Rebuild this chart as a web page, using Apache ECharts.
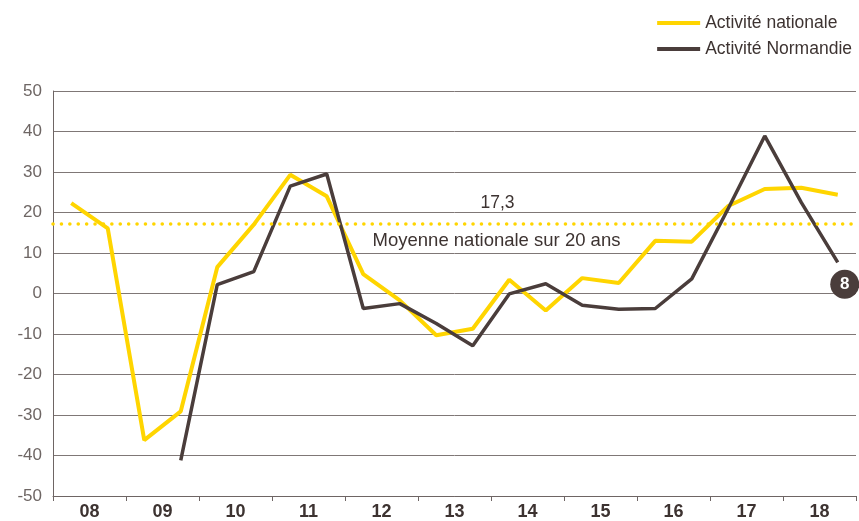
<!DOCTYPE html>
<html>
<head>
<meta charset="utf-8">
<script src="https://cdn.jsdelivr.net/npm/echarts@6/dist/echarts.min.js"></script>
<style>
  html, body { margin: 0; padding: 0; background: #fff; }
  #chart { width: 859px; height: 521px; }
</style>
</head>
<body>
<div id="chart"></div>
<script>
// années affichées sur l'axe
const years = ['08', '09', '10', '11', '12', '13', '14', '15', '16', '17', '18']
// un point par semestre
const halfYears = []
years.forEach(y => { halfYears.push(y + '-S1', y + '-S2') })

const national = [22.3, 16.1, -36.2, -29.1, 6.5, 17, 29.3, 24.0, 4.8, -1.7, -10.3,
  -8.7, 3.4, -4.2, 3.8, 2.6, 13.0, 12.8, 21.6, 25.8, 26.1, 24.4]
const normandie = [null, null, null, -41.2, 2.2, 5.4, 26.5, 29.5, -3.7, -2.5, -7.4,
  -12.9, -0.1, 2.4, -2.9, -3.9, -3.7, 3.6, 21.0, 38.9, 22.5, 7.7]
const averageValue = 17.3

const yellow = '#ffd500'
const dark = '#4a3d3b'
const gridColor = '#7f7776'
const font = 'Liberation Sans, Arial, sans-serif'

const chart = echarts.init(document.getElementById('chart'))

const option = {
  animation: false,
  grid: { left: 53, right: 3, top: 91, bottom: 22, containLabel: false },
  legend: {
    orient: 'vertical',
    right: 2,
    top: 8,
    itemWidth: 43,
    itemHeight: 4,
    itemGap: 6,
    icon: 'rect',
    textStyle: { fontFamily: font, fontSize: 17.5, color: '#3d3331', lineHeight: 20 },
    data: ['Activité nationale', 'Activité Normandie']
  },
  xAxis: [
    {
      type: 'category',
      data: years,
      boundaryGap: true,
      axisLine: { show: true, onZero: false, lineStyle: { color: '#6e6564', width: 1 } },
      axisTick: { show: true, length: 5, lineStyle: { color: '#6e6564' } },
      axisLabel: { fontFamily: font, fontSize: 18, fontWeight: 'bold', color: '#3d3331', margin: 7 },
      splitLine: { show: false }
    },
    {
      type: 'category',
      data: halfYears,
      boundaryGap: true,
      show: false
    }
  ],
  yAxis: {
    type: 'value',
    min: -50,
    max: 50,
    interval: 10,
    axisLine: { show: true, lineStyle: { color: '#6e6564' } },
    axisTick: { show: false },
    axisLabel: { fontFamily: font, fontSize: 17, color: '#6e6664', margin: 11 },
    splitLine: { lineStyle: { color: gridColor, width: 1 } }
  },
  series: [
    {
      name: 'Activité nationale',
      type: 'line',
      xAxisIndex: 1,
      data: national,
      symbol: 'none',
      color: yellow,
      lineStyle: { color: yellow, width: 4 },
      markLine: {
        silent: true,
        symbol: 'none',
        lineStyle: { color: yellow, width: 3.5, type: [0.1, 8.3], cap: 'round' },
        data: [
          {
            yAxis: averageValue,
            label: {
              position: 'insideMiddleTop',
              distance: 11,
              padding: [0, 0, 0, 86],
              fontFamily: font,
              fontSize: 17.5,
              color: '#3d3331',
              formatter: p => String(p.value).replace('.', ',')
            }
          },
          {
            name: 'moyenne',
            yAxis: averageValue + 0.0001,
            lineStyle: { color: 'rgba(0,0,0,0)', width: 0 },
            label: {
              show: true,
              position: 'insideMiddleBottom',
              distance: 8,
              padding: [0, 0, 0, 84],
              fontFamily: font,
              fontSize: 18.5,
              color: '#3d3331',
              formatter: 'Moyenne nationale sur 20 ans'
            }
          }
        ]
      }
    },
    {
      name: 'Activité Normandie',
      type: 'line',
      xAxisIndex: 1,
      data: normandie,
      symbol: 'none',
      color: dark,
      lineStyle: { color: dark, width: 3.5 },
      markPoint: {
        silent: true,
        symbol: 'circle',
        symbolSize: 29,
        symbolOffset: [7, 22],
        itemStyle: { color: dark },
        label: {
          show: true,
          position: 'inside',
          fontFamily: font,
          fontSize: 17,
          fontWeight: 'bold',
          color: '#fff',
          formatter: p => Math.round(p.value)
        },
        data: [{ coord: [halfYears[21], normandie[21]], value: normandie[21] }]
      }
    }
  ]
}

chart.setOption(option)
</script>
</body>
</html>
